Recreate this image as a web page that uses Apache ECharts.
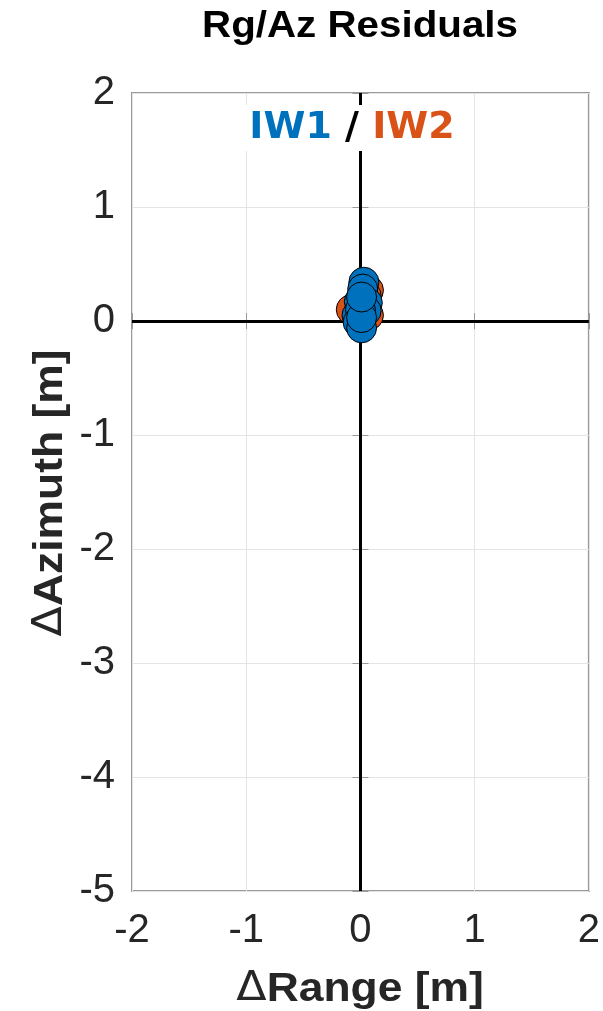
<!DOCTYPE html>
<html>
<head>
<meta charset="utf-8">
<script src="https://cdn.jsdelivr.net/npm/echarts@6/dist/echarts.min.js"></script>
<style>
  html, body { margin: 0; padding: 0; background: #fff; }
  #chart { width: 603px; height: 1011px; }
</style>
</head>
<body>
<div id="chart"></div>
<script>
// Range / azimuth residuals in metres, one [dRange, dAzimuth] pair per point
const iw2Points = [
  [-0.08, 0.10], [0.07, 0.05], [0.07, 0.27], [0.05, 0.22], [0.00, 0.12], [0.03, 0.15]
];
const iw1Points = [
  [0.03, 0.34], [0.02, 0.28], [-0.01, 0.17], [0.06, 0.16], [0.05, 0.09],
  [-0.03, 0.05], [0.00, 0.10], [-0.02, -0.01], [0.01, -0.06], [0.01, 0.03], [0.01, 0.21]
];
const xTicks = [-2, -1, 0, 1, 2];
const yTicks = [-5, -4, -3, -2, -1, 0, 1, 2];

const chart = echarts.init(document.getElementById('chart'), null, { renderer: 'canvas' });

const FONT = '"Liberation Sans", Arial, sans-serif';
const LEGEND_FONT = 'bold 38px "DejaVu Sans", sans-serif';
const BOX = '#9a9a9a';
const GRIDLINE = '#e4e4e4';
const G = { left: 132, right: 14, top: 93, bottom: 120 };

function baseAxis(extra) {
  return Object.assign({
    type: 'value',
    interval: 1,
    axisLine: { show: false },
    axisTick: { show: true, inside: true, length: 8, lineStyle: { color: BOX, width: 1 } },
    splitLine: { show: false },
    axisLabel: { show: false }
  }, extra);
}

// axis titles: thin delta followed by bold text, slightly widened
function axisTitle(x, y, rotation, label) {
  return {
    type: 'text', z: 100, x: x, y: y, rotation: rotation, scaleX: 1.11,
    style: {
      x: 0, y: 0, align: 'center', verticalAlign: 'middle',
      text: '{d|Δ}{b|' + label + '}',
      rich: {
        d: { font: '40px "DejaVu Sans", sans-serif', fill: '#262626' },
        b: { font: 'bold 40px ' + FONT, fill: '#262626' }
      }
    }
  };
}

const option = {
  animation: false,
  backgroundColor: '#fff',
  grid: Object.assign({ show: true, borderColor: BOX, borderWidth: 2, backgroundColor: 'transparent' }, G),
  xAxis: [
    baseAxis({
      min: xTicks[0], max: xTicks[xTicks.length - 1], position: 'bottom',
      splitLine: { show: true, lineStyle: { color: GRIDLINE, width: 1 } },
      axisLabel: { show: true, fontSize: 40, fontFamily: FONT, color: '#262626', margin: 20 }
    }),
    baseAxis({ min: xTicks[0], max: xTicks[xTicks.length - 1], position: 'top' })
  ],
  yAxis: [
    baseAxis({
      min: yTicks[0], max: yTicks[yTicks.length - 1], position: 'left',
      splitLine: { show: true, lineStyle: { color: GRIDLINE, width: 1 } },
      axisLabel: { show: true, fontSize: 40, fontFamily: FONT, color: '#262626', margin: 17 }
    }),
    baseAxis({ min: yTicks[0], max: yTicks[yTicks.length - 1], position: 'right' })
  ],
  series: [
    {
      name: 'IW2',
      type: 'scatter',
      data: iw2Points,
      symbolSize: 30,
      itemStyle: { color: '#D95319', borderColor: '#000', borderWidth: 1, opacity: 1 },
      z: 3,
      markLine: {
        silent: true,
        symbol: 'none',
        label: { show: false },
        lineStyle: { color: '#000', width: 3, type: 'solid' },
        data: [{ xAxis: 0 }, { yAxis: 0 }],
        z: 2
      }
    },
    {
      name: 'IW1',
      type: 'scatter',
      data: iw1Points,
      symbolSize: 30,
      itemStyle: { color: '#0072BD', borderColor: '#000', borderWidth: 1, opacity: 1 },
      z: 4
    }
  ],
  graphic: [
    {
      type: 'text', z: 100, x: 360, y: 27, scaleX: 1.12,
      style: {
        x: 0, y: 0, text: 'Rg/Az Residuals', align: 'center', verticalAlign: 'middle',
        font: 'bold 36px ' + FONT, fill: '#000'
      }
    },
    axisTitle(360, 990, 0, 'Range [m]'),
    axisTitle(51, 493, Math.PI / 2, 'Azimuth [m]'),
    {
      type: 'text', z: 100,
      style: {
        x: 352, y: 128, align: 'center', verticalAlign: 'middle',
        text: '{a|IW1}{s| / }{c|IW2}',
        backgroundColor: '#fff',
        padding: [4, 12, 4, 12],
        rich: {
          a: { font: LEGEND_FONT, fill: '#0072BD' },
          s: { font: LEGEND_FONT, fill: '#000' },
          c: { font: LEGEND_FONT, fill: '#D95319' }
        }
      }
    }
  ]
};

chart.setOption(option);
</script>
</body>
</html>
